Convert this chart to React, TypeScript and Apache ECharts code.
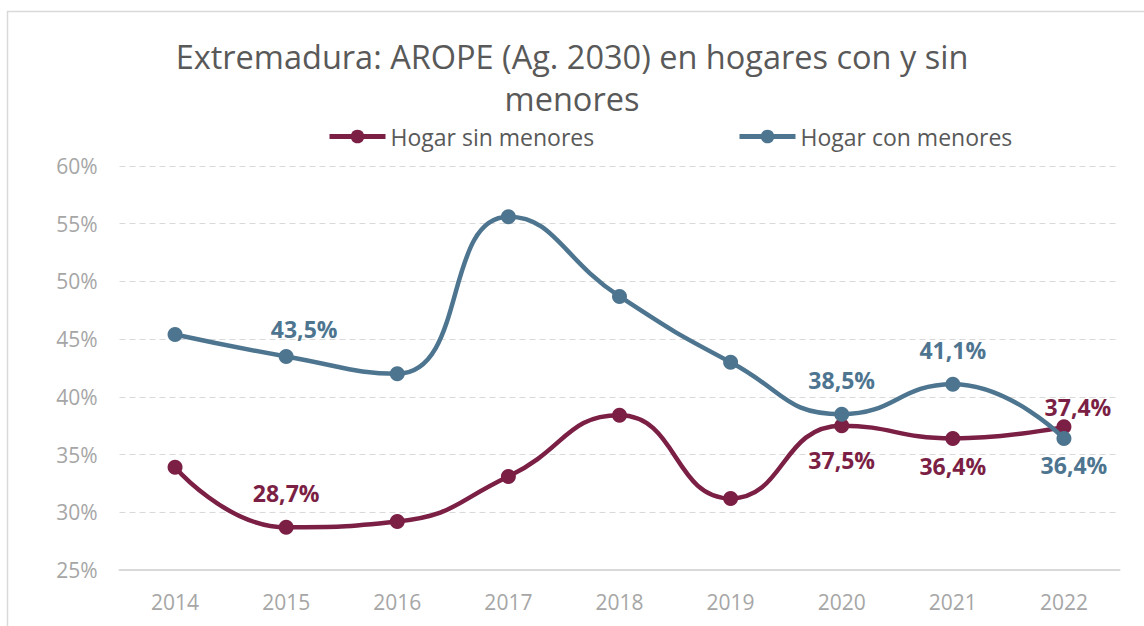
import React, { useEffect, useRef } from "react";
import * as echarts from "echarts";

const years = ["2014", "2015", "2016", "2017", "2018", "2019", "2020", "2021", "2022"];
const sinMenores = [33.9, 28.7, 29.2, 33.1, 38.4, 31.2, 37.5, 36.4, 37.4];
const conMenores = [45.4, 43.5, 42.0, 55.6, 48.7, 43.0, 38.5, 41.1, 36.4];
// label position per point: "" = no label
const sinLabels = ["", "top", "", "", "", "", "bottom", "bottom", "top"];
const conLabels = ["", "top", "", "", "", "", "top", "top", "bottom"];
// label nudges [dx, dy] in px
const sinNudge = [[0, 0], [0, -10], [0, 0], [0, 0], [0, 0], [0, 0], [0, 10], [0, 4], [14, 4]];
const conNudge = [[0, 0], [18, -3], [0, 0], [0, 0], [0, 0], [0, 0], [0, -10], [0, -10], [10, 3]];

const RED = "#7b1f45";
const BLUE = "#4e7590";
const FONT = "Open Sans";

const fmt = (v: number) => v.toFixed(1).replace(".", ",") + "%";

function buildData(values: number[], pos: string[], nudge: number[][], color: string) {
  return values.map((v, i) => ({
    value: v,
    label: pos[i]
      ? {
          show: true,
          position: pos[i],
          distance: 5,
          offset: nudge[i],
          formatter: () => fmt(v),
          color,
          fontFamily: FONT,
          fontWeight: "bold",
          fontSize: 23,
        }
      : { show: false },
  }));
}

export default function App() {
  const ref = useRef<HTMLDivElement>(null);
  useEffect(() => {
    if (!ref.current) return;
    const chart = echarts.init(ref.current, null, { renderer: "svg" });
    const legendCommon = {
      top: 120,
      itemWidth: 56,
      itemHeight: 17,
      lineStyle: { width: 5 },
      textStyle: { fontFamily: FONT, fontSize: 23, color: "#595959" },
    };
    chart.setOption({
      animation: false,
      backgroundColor: "#ffffff",
      graphic: [
        {
          type: "rect",
          shape: { x: 7.5, y: 11.5, width: 1300, height: 800 },
          style: { fill: "none", stroke: "#d9d9d9", lineWidth: 1.5 },
          silent: true,
        },
      ],
      title: {
        text: "Extremadura: AROPE (Ag. 2030) en hogares con y sin\nmenores",
        left: "center",
        top: 30,
        textStyle: {
          fontFamily: FONT,
          fontSize: 32.5,
          fontWeight: "normal",
          color: "#595959",
          lineHeight: 42,
        },
      },
      legend: [
        { ...legendCommon, data: ["Hogar sin menores"], left: 322 },
        { ...legendCommon, data: ["Hogar con menores"], left: 732 },
      ],
      grid: { left: 119.5, right: 24.5, top: 166, bottom: 56 },
      xAxis: {
        type: "category",
        data: years,
        boundaryGap: true,
        axisLine: { lineStyle: { color: "#d9d9d9", width: 2 } },
        axisTick: { show: false },
        axisLabel: { color: "#a6a6a6", fontFamily: FONT, fontSize: 21, margin: 21 },
      },
      yAxis: {
        type: "value",
        min: 25,
        max: 60,
        interval: 5,
        axisLine: { show: false },
        axisTick: { show: false },
        axisLabel: {
          color: "#a6a6a6",
          fontFamily: FONT,
          fontSize: 21,
          margin: 22,
          formatter: "{value}%",
        },
        splitLine: { lineStyle: { color: "#d9d9d9", type: [6, 4], width: 1.2 } },
      },
      series: [
        {
          name: "Hogar sin menores",
          type: "line",
          smooth: 0.5,
          data: buildData(sinMenores, sinLabels, sinNudge, RED),
          symbol: "circle",
          symbolSize: 15,
          itemStyle: { color: RED },
          lineStyle: { color: RED, width: 4.5 },
          z: 3,
        },
        {
          name: "Hogar con menores",
          type: "line",
          smooth: 0.5,
          data: buildData(conMenores, conLabels, conNudge, BLUE),
          symbol: "circle",
          symbolSize: 15,
          itemStyle: { color: BLUE },
          lineStyle: { color: BLUE, width: 4.5 },
          z: 4,
        },
      ],
    });
    return () => chart.dispose();
  }, []);
  return (
    <div
      ref={ref}
      style={{ position: "fixed", left: 0, top: 0, width: 1144, height: 626 }}
    />
  );
}
